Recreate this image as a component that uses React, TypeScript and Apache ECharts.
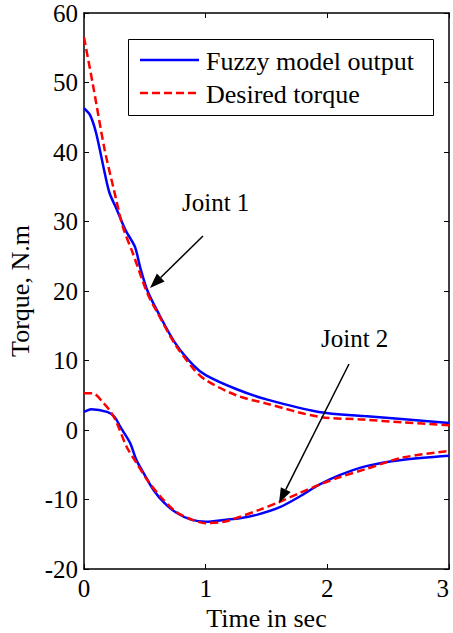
import React, { useEffect, useRef } from "react";
import * as echarts from "echarts";

// Joint 1 (upper curves)
const j1FuzzyT = [0, 0.05, 0.1, 0.17, 0.21, 0.27, 0.34, 0.42, 0.46, 0.52, 0.6, 0.75, 0.9, 1.0, 1.25, 1.5, 1.93, 2.3, 2.61, 3.0];
const j1FuzzyV = [46.3, 45.3, 42.7, 37, 34.1, 31.7, 28.8, 26.3, 23.5, 20.1, 17.2, 12.5, 9.3, 7.9, 5.9, 4.4, 2.6, 2.0, 1.6, 1.0];
const j1DesiredT = [0, 0.07, 0.17, 0.24, 0.32, 0.4, 0.52, 0.6, 0.75, 0.9, 1.0, 1.25, 1.5, 1.93, 2.3, 2.61, 3.0];
const j1DesiredV = [56.5, 50, 40.3, 35, 29.2, 25.5, 19.7, 17, 12.3, 8.8, 7.2, 5.0, 3.8, 1.9, 1.5, 1.1, 0.7];

// Joint 2 (lower curves)
const j2FuzzyT = [0, 0.06, 0.19, 0.25, 0.3, 0.38, 0.43, 0.49, 0.57, 0.66, 0.76, 0.88, 1.0, 1.17, 1.28, 1.44, 1.61, 1.77, 1.93, 2.1, 2.32, 2.61, 3.0];
const j2FuzzyV = [2.6, 3.0, 2.6, 1.9, 0.4, -1.9, -4.3, -6.2, -8.6, -10.5, -11.9, -12.9, -13.2, -12.9, -12.7, -12.1, -11.1, -9.6, -7.9, -6.5, -5.2, -4.3, -3.7];
const j2DesiredT = [0, 0.07, 0.16, 0.22, 0.27, 0.35, 0.43, 0.52, 0.63, 0.76, 0.9, 1.0, 1.15, 1.23, 1.44, 1.6, 1.77, 1.93, 2.1, 2.32, 2.61, 3.0];
const j2DesiredV = [5.3, 5.3, 3.9, 2.6, 1.0, -2.4, -4.7, -7.2, -9.6, -11.8, -13.0, -13.4, -13.2, -12.8, -11.5, -10.4, -9.1, -7.9, -6.8, -5.6, -4.0, -3.0];

const xTicks = [0, 1, 2, 3];
const yTicks = [-20, -10, 0, 10, 20, 30, 40, 50, 60];

const seriesNames = ["Fuzzy model output", "Desired torque"];
const annotationLabels = ["Joint 1", "Joint 2"];

const FONT = "Liberation Serif, Times New Roman, serif";
const BLUE = "#0000ff";
const RED = "#ff0000";

const zip = (t: number[], v: number[]) => t.map((x, i) => [x, v[i]]);

function arrow(x1: number, y1: number, x2: number, y2: number) {
  const dx = x2 - x1;
  const dy = y2 - y1;
  const len = Math.sqrt(dx * dx + dy * dy);
  const ux = dx / len;
  const uy = dy / len;
  const hl = 15;
  const hw = 5.5;
  const bx = x2 - ux * hl;
  const by = y2 - uy * hl;
  const px = -uy * hw;
  const py = ux * hw;
  return [
    { type: "line", z: 50, shape: { x1, y1, x2: bx, y2: by }, style: { stroke: "#000", lineWidth: 1.5 } },
    {
      type: "polygon",
      z: 50,
      shape: { points: [[x2, y2], [bx + px, by + py], [bx - px, by - py]] },
      style: { fill: "#000" },
    },
  ];
}

export default function App() {
  const ref = useRef<HTMLDivElement>(null);
  useEffect(() => {
    if (!ref.current) return;
    const chart = echarts.init(ref.current, null, { renderer: "svg" });
    const axisLine = { show: true, onZero: false, lineStyle: { color: "#000", width: 1.5 } };
    const axisTick = { show: true, inside: true, length: 5, lineStyle: { color: "#000", width: 1 } };
    const xCommon = { min: 0, max: 3, interval: 1, axisLine, axisTick, splitLine: { show: false } };
    const yCommon = { min: -20, max: 60, interval: 10, axisLine, axisTick, splitLine: { show: false } };
    const lineBlue = { color: BLUE, width: 2.5, type: "solid" };
    const lineRed = { color: RED, width: 2.5, type: [8, 4] };
    const legendText = { font: `26px ${FONT}`, fill: "#000", verticalAlign: "middle" };
    chart.setOption({
      animation: false,
      backgroundColor: "#fff",
      grid: { left: 84, right: 4, top: 13, bottom: 64, containLabel: false, outerBoundsMode: "none" },
      xAxis: [
        {
          type: "value",
          position: "bottom",
          ...xCommon,
          name: "Time in sec",
          nameLocation: "middle",
          nameGap: 30,
          nameTextStyle: { fontFamily: FONT, fontSize: 26, color: "#000" },
          axisLabel: {
            fontFamily: FONT,
            fontSize: 25,
            color: "#000",
            margin: 7,
            alignMaxLabel: "right",
            formatter: (v: number) => (xTicks.includes(v) ? String(v) : ""),
          },
        },
        { type: "value", position: "top", ...xCommon, axisLabel: { show: false } },
      ],
      yAxis: [
        {
          type: "value",
          position: "left",
          ...yCommon,
          name: "Torque, N.m",
          nameLocation: "middle",
          nameGap: 50,
          nameTextStyle: { fontFamily: FONT, fontSize: 26, color: "#000" },
          axisLabel: {
            fontFamily: FONT,
            fontSize: 25,
            color: "#000",
            margin: 6,
            formatter: (v: number) => (yTicks.includes(v) ? String(v) : ""),
          },
        },
        { type: "value", position: "right", ...yCommon, axisLabel: { show: false } },
      ],
      series: [
        { name: seriesNames[0], type: "line", data: zip(j1FuzzyT, j1FuzzyV), symbol: "none", smooth: 0.3, lineStyle: lineBlue, z: 2 },
        { name: seriesNames[0], type: "line", data: zip(j2FuzzyT, j2FuzzyV), symbol: "none", smooth: 0.3, lineStyle: lineBlue, z: 2 },
        { name: seriesNames[1], type: "line", data: zip(j1DesiredT, j1DesiredV), symbol: "none", smooth: 0.3, lineStyle: lineRed, z: 3 },
        { name: seriesNames[1], type: "line", data: zip(j2DesiredT, j2DesiredV), symbol: "none", smooth: 0.3, lineStyle: lineRed, z: 3 },
      ],
      graphic: [
        {
          type: "rect",
          z: 40,
          shape: { x: 128.5, y: 39.5, width: 305, height: 76 },
          style: { fill: "#fff", stroke: "#000", lineWidth: 1 },
        },
        { type: "line", z: 41, shape: { x1: 140, y1: 60, x2: 199, y2: 60 }, style: { stroke: BLUE, lineWidth: 2.5 } },
        { type: "line", z: 41, shape: { x1: 140, y1: 93, x2: 199, y2: 93 }, style: { stroke: RED, lineWidth: 2.5, lineDash: [8, 4] } },
        { type: "text", z: 41, x: 206, y: 61, style: { text: seriesNames[0], ...legendText } },
        { type: "text", z: 41, x: 206, y: 94, style: { text: seriesNames[1], ...legendText } },
        {
          type: "text",
          z: 41,
          left: 182,
          top: 190,
          style: { text: annotationLabels[0], font: `25px ${FONT}`, fill: "#000" },
        },
        {
          type: "text",
          z: 41,
          left: 321,
          top: 326,
          style: { text: annotationLabels[1], font: `25px ${FONT}`, fill: "#000" },
        },
        ...arrow(203, 236, 150, 288),
        ...arrow(349, 364, 279, 503),
      ],
    });
    return () => chart.dispose();
  }, []);
  return (
    <div
      ref={ref}
      style={{ position: "fixed", left: 0, top: 0, width: 453, height: 633, background: "#fff" }}
    />
  );
}
